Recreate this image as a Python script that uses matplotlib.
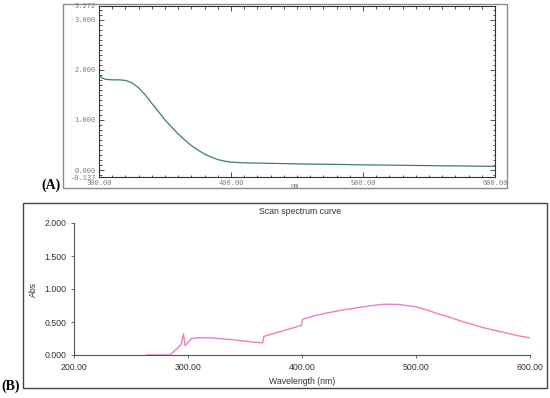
import numpy as np
import matplotlib
matplotlib.use("Agg")
import matplotlib.pyplot as plt
import matplotlib.patches as patches
from matplotlib.ticker import MultipleLocator, FixedLocator

# panel A: absorbance spectrum (300-600 nm)
wl_a = [300, 302, 305, 310, 315, 320, 325, 330, 335, 340, 345, 350, 355, 360, 365,
        370, 375, 380, 385, 390, 395, 400, 410, 420, 440, 460, 480, 500, 550, 600]
abs_a = [1.90, 1.84, 1.81, 1.80, 1.80, 1.79, 1.74, 1.64, 1.50, 1.33, 1.17, 1.00, 0.86, 0.72, 0.60,
         0.49, 0.40, 0.32, 0.26, 0.21, 0.18, 0.16, 0.145, 0.14, 0.13, 0.12, 0.115, 0.105, 0.09, 0.075]
yticks_a = [-0.137, 0.0, 1.0, 2.0, 3.0, 3.272]
yticklabels_a = ["-0.137", "0.000", "1.000", "2.000", "3.000", "3.272"]
xticks_a = [300, 400, 500, 600]
xticklabels_a = ["300.00", "400.00", "500.00", "600.00"]

# panel B: scan spectrum curve (200-600 nm)
wl_b = [264, 284, 288, 291, 294, 296, 297.5, 300, 303, 310, 320, 330, 340, 350, 360, 365.5,
        366.5, 370, 380, 390, 399.5, 400.5, 410, 420, 435, 450, 462, 473, 485, 500,
        510, 520, 530, 540, 550, 560, 570, 580, 590, 600]
abs_b = [0.0, 0.0, 0.06, 0.11, 0.16, 0.32, 0.14, 0.19, 0.25, 0.26, 0.26, 0.245, 0.23, 0.21, 0.19, 0.185,
         0.28, 0.30, 0.35, 0.40, 0.45, 0.54, 0.59, 0.63, 0.68, 0.72, 0.75, 0.77, 0.765, 0.73,
         0.68, 0.62, 0.57, 0.51, 0.46, 0.41, 0.37, 0.33, 0.29, 0.26]
yticks_b = [0.0, 0.5, 1.0, 1.5, 2.0]
yticklabels_b = ["0.000", "0.500", "1.000", "1.500", "2.000"]
xticks_b = [200, 300, 400, 500, 600]
xticklabels_b = ["200.00", "300.00", "400.00", "500.00", "600.00"]

W, H = 550, 398
fig = plt.figure(figsize=(W / 100, H / 100), dpi=100)

def px_box(x0, y0, x1, y1):
    # pixel box (top-left origin) -> figure fraction rect
    return [x0 / W, 1 - y1 / H, (x1 - x0) / W, (y1 - y0) / H]

def frame(x0, y0, x1, y1, color):
    l, b, w, h = px_box(x0, y0, x1, y1)
    fig.add_artist(patches.Rectangle((l, b), w, h, transform=fig.transFigure,
                                     fill=False, edgecolor=color, lw=1.0))

# ---------- panel A ----------
frame(63, 4, 507, 188, "#8a8a8a")
ax = fig.add_axes(px_box(99, 6, 495, 177))
ax.plot(wl_a, abs_a, color="#3a8358", lw=0.9)
ax.set_xlim(300, 600)
ax.set_ylim(-0.137, 3.272)
ax.yaxis.set_major_locator(FixedLocator(yticks_a))
ax.set_yticklabels(yticklabels_a)
ax.yaxis.set_minor_locator(MultipleLocator(0.1))
ax.xaxis.set_major_locator(FixedLocator(xticks_a))
ax.set_xticklabels(xticklabels_a)
ax.xaxis.set_minor_locator(MultipleLocator(10))
ax.tick_params(which="both", direction="in", top=True, right=True, width=0.6,
               colors="#333333", labelcolor="#777777", labelsize=5, pad=2)
ax.tick_params(which="major", length=3.5)
ax.tick_params(which="minor", length=1.8)
for lab in ax.get_xticklabels() + ax.get_yticklabels():
    lab.set_family("Liberation Mono")
for s in ax.spines.values():
    s.set_color("#333333")
    s.set_linewidth(0.8)
fig.text(295 / W, 1 - 186 / H, "nm", fontsize=5, color="#777777", ha="center", va="center",
         family="Liberation Mono")
fig.text(51 / W, 1 - 185 / H, "(A)", fontsize=10, fontweight="bold", ha="center", va="center",
         family="Liberation Serif")

# ---------- panel B ----------
frame(23, 203, 547, 388, "#444444")
bx = fig.add_axes(px_box(74, 223, 530, 355))
bx.plot(wl_b, abs_b, color="#f07cc0", lw=1.0)
bx.set_xlim(200, 600)
bx.set_ylim(0, 2.0)
bx.set_xticks(xticks_b)
bx.set_xticklabels(xticklabels_b)
bx.set_yticks(yticks_b)
bx.set_yticklabels(yticklabels_b)
bx.spines["top"].set_visible(False)
bx.spines["right"].set_visible(False)
for s in ["left", "bottom"]:
    bx.spines[s].set_color("#555555")
    bx.spines[s].set_linewidth(0.8)
bx.tick_params(direction="out", length=2.5, width=0.6, colors="#555555",
               labelcolor="#333333", labelsize=6.3, pad=3)
for lab in bx.get_xticklabels() + bx.get_yticklabels():
    lab.set_family("Liberation Sans")
bx.set_ylabel("Abs", fontsize=6.3, family="Liberation Sans", color="#333333")
bx.yaxis.set_label_coords(-0.08, 0.5)
fig.text(302 / W, 1 - 382 / H, "Wavelength (nm)", fontsize=6.3, family="Liberation Sans",
         color="#333333", ha="center", va="center")
fig.text(300 / W, 1 - 211 / H, "Scan spectrum curve", fontsize=6.3, family="Liberation Sans",
         color="#333333", ha="center", va="center")
fig.text(11 / W, 1 - 386 / H, "(B)", fontsize=10, fontweight="bold", ha="center", va="center",
         family="Liberation Serif")

fig.savefig("out.png", dpi=100)
